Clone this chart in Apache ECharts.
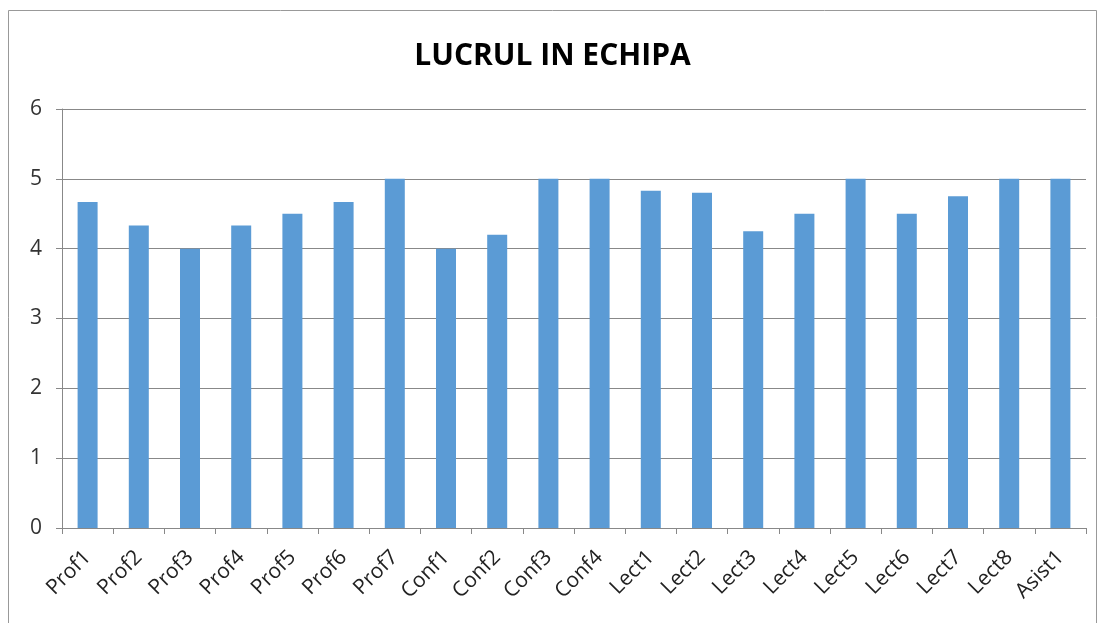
<!DOCTYPE html>
<html>
<head>
<meta charset="utf-8">
<script src="https://cdn.jsdelivr.net/npm/echarts@6/dist/echarts.min.js"></script>
<style>
  html, body { margin: 0; padding: 0; background: #fff; }
  #chart { width: 1105px; height: 623px; }
</style>
</head>
<body>
<div id="chart"></div>
<script>
// categorii si valori
var categories = ['Prof1', 'Prof2', 'Prof3', 'Prof4', 'Prof5', 'Prof6', 'Prof7',
    'Conf1', 'Conf2', 'Conf3', 'Conf4',
    'Lect1', 'Lect2', 'Lect3', 'Lect4', 'Lect5', 'Lect6', 'Lect7', 'Lect8', 'Asist1'];
var values = [4.67, 4.33, 4, 4.33, 4.5, 4.67, 5,
    4, 4.2, 5, 5,
    4.83, 4.8, 4.25, 4.5, 5, 4.5, 4.75, 5, 5];
var yTicks = [0, 1, 2, 3, 4, 5, 6];

var chart = echarts.init(document.getElementById('chart'));
var option = {
    backgroundColor: '#fff',
    animation: false,
    title: {
        text: 'LUCRUL IN ECHIPA',
        left: 'center',
        top: 36,
        textStyle: {
            fontFamily: 'Open Sans, sans-serif',
            fontWeight: 'bold',
            fontSize: 30,
            color: '#000'
        }
    },
    graphic: [{
        type: 'rect',
        shape: {x: 8.5, y: 10.5, width: 1088, height: 640},
        style: {fill: null, stroke: '#999', lineWidth: 1}
    }],
    grid: {
        left: 62,
        right: 19,
        top: 109,
        bottom: 95,
        containLabel: false
    },
    xAxis: {
        type: 'category',
        data: categories,
        axisLine: {lineStyle: {color: '#888'}},
        axisTick: {show: true, length: 6, alignWithLabel: false, lineStyle: {color: '#888'}},
        axisLabel: {
            interval: 0,
            rotate: 45,
            margin: 26,
            padding: [0, 0, 0, 0],
            fontFamily: 'Open Sans, sans-serif',
            fontSize: 21,
            color: '#222'
        }
    },
    yAxis: {
        type: 'value',
        min: yTicks[0],
        max: yTicks[yTicks.length - 1],
        interval: 1,
        axisLine: {show: true, lineStyle: {color: '#888'}},
        axisTick: {show: true, length: 6, lineStyle: {color: '#888'}},
        splitLine: {lineStyle: {color: '#888'}},
        axisLabel: {
            margin: 20,
            fontFamily: 'Open Sans, sans-serif',
            fontSize: 21,
            color: '#333'
        }
    },
    series: [{
        type: 'bar',
        data: values,
        barWidth: 20,
        itemStyle: {color: '#5b9bd5'}
    }]
};
chart.setOption(option);
</script>
</body>
</html>
